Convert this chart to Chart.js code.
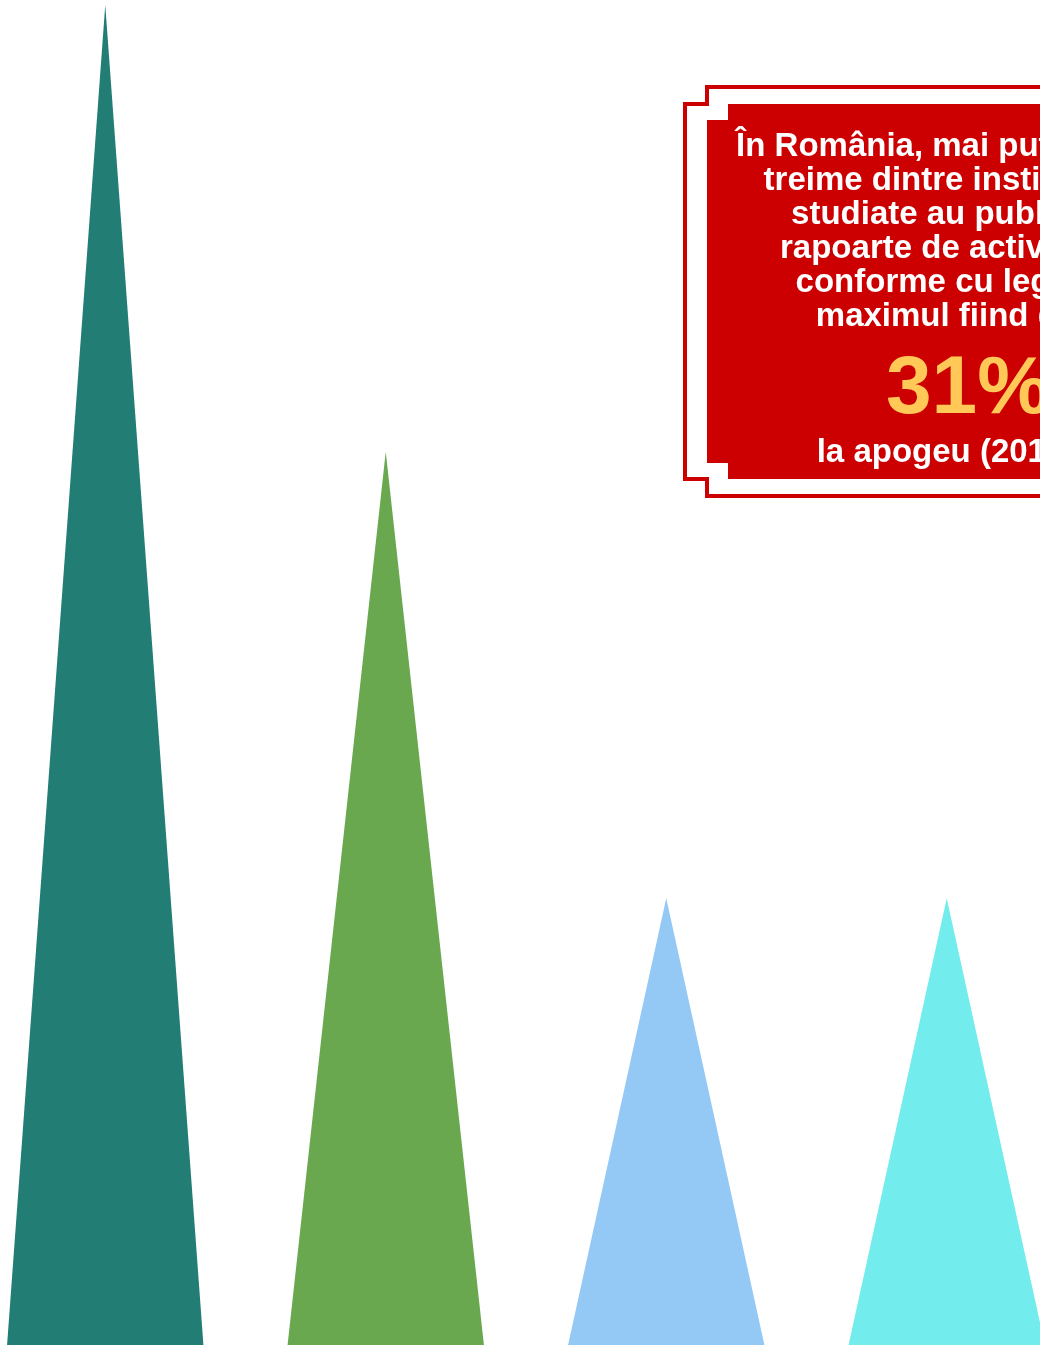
<!DOCTYPE html>
<html lang="ro">
<head>
<meta charset="UTF-8">
<title>Rapoarte de activitate</title>
<script src="https://cdn.jsdelivr.net/npm/chart.js"></script>
<style>
    html, body {
        margin: 0;
        padding: 0;
        width: 1040px;
        height: 1345px;
        overflow: hidden;
        background: #ffffff;
        font-family: "Liberation Sans", Arial, sans-serif;
    }
    #chartBox {
        position: absolute;
        left: -35px;
        top: 0;
        width: 1122px;
        height: 1345px;
    }
    #frame {
        position: absolute;
        left: 0;
        top: 0;
    }
    .note {
        position: absolute;
        left: 686px;
        width: 520px;
        text-align: center;
        font-weight: bold;
        color: #ffffff;
        font-size: 33px;
        line-height: 34px;
    }
    #noteBig {
        color: #ffc857;
        font-size: 82px;
        line-height: 82px;
        padding-left: 44px;
        box-sizing: border-box;
    }
</style>
</head>
<body>

<div id="chartBox"><canvas id="peakChart"></canvas></div>

<svg id="frame" width="1300" height="520">
    <polygon points="707,87 1185,87 1185,104 1207,104 1207,479 1185,479 1185,496 707,496 707,479 685,479 685,104 707,104"
             fill="none" stroke="#cc0000" stroke-width="4"/>
    <polygon points="728,104 1164,104 1164,120 1185,120 1185,463 1164,463 1164,479 728,479 728,463 707,463 707,120 728,120"
             fill="#cc0000"/>
</svg>

<div class="note" style="top:128px;">În România, mai puțin de o<br>treime dintre instituțiile<br>studiate au publicat<br>rapoarte de activitate<br>conforme cu legea,<br>maximul fiind de</div>
<div class="note" id="noteBig" style="top:344px;">31%</div>
<div class="note" style="top:434px;">la apogeu (2019)</div>

<script>
const categories = ["Categoria 1", "Categoria 2", "Categoria 3", "Categoria 4"];
const values = [3, 2, 1, 1];
const colors = ["#227d74", "#6aa84f", "#94c8f5", "#72ecec"];
const yMax = 3;

// draws every bar as a triangle: base on the axis, tip at the value
const trianglePlugin = {
    id: "triangles",
    beforeDatasetDraw(chart, args) {
        const ctx = chart.ctx;
        args.meta.data.forEach(bar => {
            const half = bar.width / 2;
            ctx.save();
            ctx.beginPath();
            ctx.moveTo(bar.x - half, bar.base);
            ctx.lineTo(bar.x, bar.y);
            ctx.lineTo(bar.x + half, bar.base);
            ctx.closePath();
            ctx.fillStyle = bar.options.backgroundColor;
            ctx.fill();
            ctx.restore();
        });
        return false;
    }
};

function renderChart() {
    const ctx = document.getElementById("peakChart").getContext("2d");
    new Chart(ctx, {
        type: "bar",
        data: {
            labels: categories,
            datasets: [{
                    data: values,
                    backgroundColor: colors,
                    categoryPercentage: 1,
                    barPercentage: 0.7
                }]
        },
        options: {
            responsive: true,
            maintainAspectRatio: false,
            animation: false,
            layout: {padding: {top: 5}},
            plugins: {
                legend: {display: false},
                tooltip: {enabled: false}
            },
            scales: {
                x: {display: false},
                y: {display: false, min: 0, max: yMax}
            }
        },
        plugins: [trianglePlugin]
    });
}

renderChart();
</script>
</body>
</html>
